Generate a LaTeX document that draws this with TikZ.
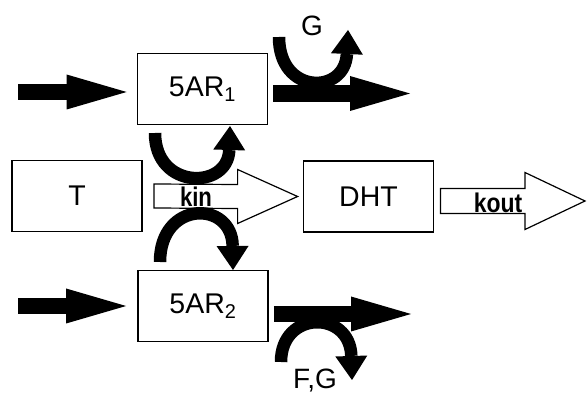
\documentclass[tikz,border=0pt]{standalone}
\usepackage{fontspec}
\setmainfont{Liberation Sans}
\usepackage{graphicx}
\usetikzlibrary{arrows.meta,calc}
\begin{document}
\begin{tikzpicture}[x=1pt,y=-1pt,
  box/.style={draw,line width=1.8pt,minimum width=130pt,minimum height=71pt,
    inner sep=0pt,font=\fontsize{28.5}{30}\selectfont},
  fat/.style={line width=16.5pt,-{Triangle[length=60pt,width=35pt,line width=0pt]}},
  bendarrow/.style={line width=12.5pt,-{Triangle[length=24pt,width=32pt,line width=0pt]}},
  hollow/.style={draw,line width=1.2pt,fill=white,line join=miter},
  rate/.style={font=\bfseries\fontsize{27}{29}\selectfont,inner sep=0pt,anchor=base},
  enz/.style={font=\fontsize{28}{30}\selectfont,inner sep=0pt,anchor=base}]
\useasboundingbox (0,0) rectangle (587,395);

% compartments
\node[box] (ar1) at (202.5,89) {5AR\textsubscript{1}};
\node[box] (ar2) at (203,306) {5AR\textsubscript{2}};
\node[box] (t) at (77,196) {T};
\node[box] (dht) at (368.5,196.5) {DHT};

% conversion T -> DHT
\coordinate (kinS) at ($(t.east)+(11,0)$);
\coordinate (kinE) at ($(dht.west)+(-5,0)$);
\draw[hollow] ($(kinS)+(0,-12)$) -- ($(kinE)+(-60,-12)$) -- ($(kinE)+(-60,-27)$)
  -- (kinE) -- ($(kinE)+(-60,27)$) -- ($(kinE)+(-60,12)$) -- ($(kinS)+(0,12)$) -- cycle;
\node[rate] (kinlab) at (196,207) {\scalebox{0.82}[1]{kin}};

% elimination of DHT
\coordinate (koutS) at ($(dht.east)+(6,4.5)$);
\coordinate (koutE) at (585,201);
\draw[hollow] ($(koutS)+(0,-12.5)$) -- ($(koutE)+(-60,-12.5)$) -- ($(koutE)+(-60,-28.5)$)
  -- (koutE) -- ($(koutE)+(-60,28.5)$) -- ($(koutE)+(-60,12.5)$) -- ($(koutS)+(0,12.5)$) -- cycle;
\node[rate] (koutlab) at (498,213) {\scalebox{0.85}[1]{kout}};

% enzyme synthesis and degradation
\coordinate (in1) at (18,92);
\coordinate (in2) at (18,306);
\coordinate (out1) at (410,93.5);
\coordinate (out2) at (411,314);
\draw[fat,shorten >=10pt] (in1) -- (in1 -| ar1.west);
\draw[fat,shorten >=11pt] (in2) -- (in2 -| ar2.west);
\draw[fat,shorten <=5pt] (out1 -| ar1.east) -- (out1);
\draw[fat,shorten <=5pt] (out2 -| ar2.east) -- (out2);

% induction loops
\coordinate (g1) at (279,37);   \coordinate (g2) at (348,30);
\coordinate (u1) at (155,133);  \coordinate (u2) at (230,126);
\coordinate (d1) at (160,262);  \coordinate (d2) at (233,270);
\coordinate (f1) at (281,362);  \coordinate (f2) at (352,380);
\draw[bendarrow] (g1) .. controls (279,95) and (345,95) .. (g2);
\draw[bendarrow] (u1) .. controls (155,190) and (228,190) .. (u2);
\draw[bendarrow] (d1) .. controls (160,200) and (232,200) .. (d2);
\draw[bendarrow] (f1) .. controls (281,310) and (350,310) .. (f2);

\node[enz] (glab) at (312,36) {G};
\node[enz] (fglab) at (315,389) {F,G};
\end{tikzpicture}
\end{document}
